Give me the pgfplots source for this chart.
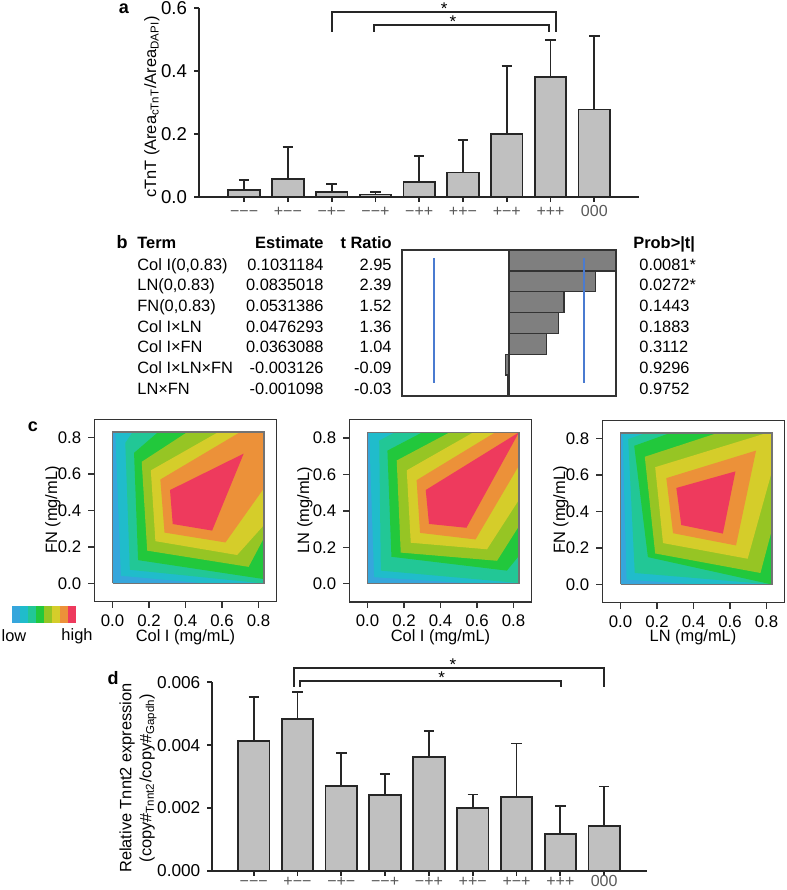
\documentclass[border=0pt]{standalone}
\usepackage{fontspec}
\setmainfont{Liberation Sans}
\usepackage{pgfplots}
\pgfplotsset{compat=1.18}

\definecolor{barfill}{HTML}{C0C0C0}
\definecolor{bardark}{HTML}{7F7F7F}
\definecolor{tline}{HTML}{4A7BD0}
\definecolor{cblue}{HTML}{36A6DC}
\definecolor{ccyan}{HTML}{20BCCB}
\definecolor{cteal}{HTML}{22C796}
\definecolor{cgreen}{HTML}{22C83C}
\definecolor{clime}{HTML}{96C524}
\definecolor{cyellow}{HTML}{D5CD2A}
\definecolor{corange}{HTML}{EC9139}
\definecolor{cred}{HTML}{EE3A5D}

\newcommand\fs{\fontsize{8.2}{10}\selectfont}

\pgfplotsset{
  /pgf/number format/assume math mode=true,
  barax/.style={
    scale only axis, anchor=south west, clip=false,
    axis lines=left, axis line style={-, line width=0.9pt, black!85},
    tick style={line width=0.9pt, black!85}, tick align=outside, major tick length=2.5pt,
    xtick={0,...,8},
    xticklabels={−−−,+−−,−+−,−−+,−++,++−,+−+,+++,000},
    xticklabel style={font=\fontsize{8}{9}\selectfont, text=black!65,
      text height=5.6pt, text depth=0pt, inner sep=1.5pt},
    ymin=0, scaled y ticks=false,
  },
  bars/.style={ybar, bar width=0.72, fill=barfill, draw=black!85, line width=0.9pt,
    error bars/.cd, y dir=plus, y explicit,
    error bar style={line width=0.9pt, black!85},
    error mark options={rotate=90, mark size=2.6pt, line width=0.9pt, black!85}},
  cont/.style={
    scale only axis, anchor=south west, width=91.2pt, height=91.2pt,
    xmin=-0.1, xmax=0.9, ymin=-0.1, ymax=0.9,
    xtick={0,0.2,0.4,0.6,0.8}, ytick={0,0.2,0.4,0.6,0.8},
    xtick pos=left, ytick pos=left, tick align=outside, major tick length=3pt,
    axis line style={line width=0.7pt, black!80},
    tick style={line width=0.7pt, black!80},
    tick label style={font=\fontsize{8.4}{10}\selectfont},
    xticklabel style={/pgf/number format/.cd, fixed, fixed zerofill, precision=1},
    yticklabel style={/pgf/number format/.cd, fixed, fixed zerofill, precision=1},
  },
  band/.style={fill=#1, draw=none, forget plot},
  inner/.style={draw=black!55, line width=0.6pt, forget plot},
}

\begin{document}
\begin{tikzpicture}[x=0.5pt, y=-0.5pt]
\useasboundingbox (0,0) rectangle (787,890);

% ---------------- panel a
\begin{axis}[barax, at={(199*0.5pt,-197*0.5pt)}, width=220pt, height=94.5pt,
  xmin=-1.03, xmax=9.02, ymax=0.6, ytick={0,0.2,0.4,0.6},
  yticklabel style={font=\fontsize{9.3}{10}\selectfont,
    /pgf/number format/.cd, fixed, fixed zerofill, precision=1}]
\addplot[bars] table[x=x, y=y, y error=e] {
x y e
0 0.021 0.033
1 0.058 0.102
2 0.015 0.026
3 0.008 0.007
4 0.048 0.082
5 0.078 0.102
6 0.201 0.216
7 0.380 0.118
8 0.278 0.233
};
\draw[line width=0.9pt, black!85] (axis cs:2.01,0.525) |- (axis cs:7.12,0.588) -- (axis cs:7.12,0.525);
\draw[line width=0.9pt, black!85] (axis cs:2.97,0.525) |- (axis cs:6.96,0.546) -- (axis cs:6.96,0.525);
\node[anchor=north, inner sep=0, font=\fontsize{8.5}{8}\selectfont] at (axis cs:4.57,0.617) {*};
\node[anchor=north, inner sep=0, font=\fontsize{8.5}{8}\selectfont] at (axis cs:4.77,0.575) {*};
\end{axis}
\node[font=\bfseries\fontsize{9}{10}\selectfont] at (124,9) {a};
\node[rotate=90, font=\fs] at (152,107) {cTnT (Area\textsubscript{cTnT}/Area\textsubscript{DAPI})};

% ---------------- panel b
\node[font=\bfseries\fontsize{9}{10}\selectfont] at (122,242) {b};
\begin{scope}[font=\fs, every node/.style={inner sep=0}]
\node[anchor=base west, font=\fs\bfseries] at (137,248) {Term};
\node[anchor=base east, font=\fs\bfseries] at (324,248) {Estimate};
\node[anchor=base east, font=\fs\bfseries] at (392,248) {t Ratio};
\node[anchor=base west, font=\fs\bfseries] at (633,248) {Prob>|t|};
\foreach \yy/\t/\e/\r/\p in {
  270/Col I(0{,}0.83)/0.1031184/2.95/0.0081*,
  290.7/LN(0{,}0.83)/0.0835018/2.39/0.0272*,
  311.4/FN(0{,}0.83)/0.0531386/1.52/0.1443,
  332.1/Col I×LN/0.0476293/1.36/0.1883,
  352.8/Col I×FN/0.0363088/1.04/0.3112,
  373.5/Col I×LN×FN/-0.003126/-0.09/0.9296,
  394.2/LN×FN/-0.001098/-0.03/0.9752}{
  \node[anchor=base west] at (137,\yy) {\t};
  \node[anchor=base east] at (324,\yy) {\e};
  \node[anchor=base east] at (392,\yy) {\r};
  \node[anchor=base west] at (639,\yy) {\p};
}
\end{scope}
\begin{axis}[at={(402*0.5pt,-396*0.5pt)}, anchor=south west, scale only axis, width=107pt, height=73pt,
  xmin=-2.95, xmax=2.95, ymin=-0.5, ymax=6.5, y dir=reverse,
  xtick=\empty, ytick=\empty, axis line style={line width=0.8pt, black!80}]
\addplot[xbar, bar width=1, fill=bardark, draw=black!80, line width=0.7pt] coordinates {
(2.95,0) (2.39,1) (1.52,2) (1.36,3) (1.04,4) (-0.09,5) (-0.03,6)};
\addplot[tline, line width=0.8pt] coordinates {(-2.07,-0.12) (-2.07,5.88)};
\addplot[tline, line width=0.8pt] coordinates {(2.07,-0.12) (2.07,5.88)};
\end{axis}

% ---------------- panel c
\node[font=\bfseries\fontsize{9}{10}\selectfont] at (33,427) {c};

\begin{axis}[cont, at={(94.3*0.5pt,-601.7*0.5pt)}]
\addplot[band=cblue] coordinates {(0,0) (0.83,0) (0.83,0.83) (0,0.83)};
\addplot[band=ccyan] coordinates {(0.015,0.83) (0.046,0.042) (0.51,0) (0.83,0) (0.83,0.83)};
\addplot[band=cteal] coordinates {(0.11,0.83) (0.07,0.77) (0.095,0.075) (0.83,0) (0.83,0.83)};
\addplot[band=cgreen] coordinates {(0.25,0.83) (0.118,0.716) (0.14,0.128) (0.83,0.024) (0.83,0.83)};
\addplot[band=clime] coordinates {(0.41,0.83) (0.16,0.667) (0.19,0.18) (0.746,0.091) (0.83,0.25) (0.83,0.83)};
\addplot[band=cyellow] coordinates {(0.58,0.83) (0.21,0.62) (0.235,0.232) (0.683,0.156) (0.83,0.32) (0.83,0.83)};
\addplot[band=corange] coordinates {(0.70,0.83) (0.262,0.57) (0.285,0.279) (0.619,0.225) (0.83,0.522) (0.83,0.83)};
\addplot[band=cred] coordinates {(0.315,0.512) (0.719,0.712) (0.546,0.29) (0.33,0.326)};
\addplot[inner] coordinates {(0,0) (0.83,0) (0.83,0.83) (0,0.83) (0,0)};
\end{axis}

\begin{axis}[cont, at={(349.3*0.5pt,-602*0.5pt)}]
\addplot[band=cblue] coordinates {(0,0) (0.83,0) (0.83,0.83) (0,0.83)};
\addplot[band=ccyan] coordinates {(0.009,0.83) (0.036,0.036) (0.6,0) (0.83,0) (0.83,0.83)};
\addplot[band=cteal] coordinates {(0.15,0.83) (0.064,0.785) (0.073,0.072) (0.83,0.004) (0.83,0.83)};
\addplot[band=cgreen] coordinates {(0.30,0.83) (0.109,0.73) (0.131,0.148) (0.764,0.072) (0.83,0.153) (0.83,0.83)};
\addplot[band=clime] coordinates {(0.45,0.83) (0.16,0.676) (0.182,0.171) (0.71,0.126) (0.83,0.316) (0.83,0.83)};
\addplot[band=cyellow] coordinates {(0.58,0.83) (0.215,0.622) (0.237,0.225) (0.655,0.189) (0.83,0.46) (0.83,0.83)};
\addplot[band=corange] coordinates {(0.70,0.83) (0.269,0.568) (0.288,0.279) (0.592,0.243) (0.83,0.648) (0.83,0.83)};
\addplot[band=cred] coordinates {(0.319,0.514) (0.83,0.83) (0.542,0.307) (0.337,0.328)};
\addplot[inner] coordinates {(0,0) (0.83,0) (0.83,0.83) (0,0.83) (0,0)};
\end{axis}

\begin{axis}[cont, at={(602.3*0.5pt,-602.7*0.5pt)}]
\addplot[band=cblue] coordinates {(0,0) (0.83,0) (0.83,0.83) (0,0.83)};
\addplot[band=ccyan] coordinates {(0.011,0.83) (0.033,0.027) (0.415,0) (0.83,0) (0.83,0.83)};
\addplot[band=cteal] coordinates {(0.14,0.83) (0.042,0.797) (0.078,0.063) (0.83,0) (0.83,0.83)};
\addplot[band=cgreen] coordinates {(0.27,0.83) (0.075,0.76) (0.15,0.15) (0.83,0) (0.83,0.83)};
\addplot[band=clime] coordinates {(0.53,0.83) (0.133,0.70) (0.19,0.17) (0.767,0.063) (0.83,0.3) (0.83,0.83)};
\addplot[band=cyellow] coordinates {(0.80,0.83) (0.19,0.643) (0.233,0.227) (0.697,0.141) (0.83,0.62) (0.83,0.83)};
\addplot[band=corange] coordinates {(0.251,0.583) (0.288,0.281) (0.633,0.214) (0.743,0.734)};
\addplot[band=cred] coordinates {(0.306,0.529) (0.63,0.62) (0.561,0.279) (0.333,0.326)};
\addplot[inner] coordinates {(0,0) (0.83,0) (0.83,0.83) (0,0.83) (0,0)};
\end{axis}

\node[rotate=90, font=\fs] at (53,510) {FN (mg/mL)};
\node[rotate=90, font=\fs] at (305,510) {LN (mg/mL)};
\node[rotate=90, font=\fs] at (561,510) {FN (mg/mL)};
\node[font=\fs] at (185.5,637) {Col I (mg/mL)};
\node[font=\fs] at (440.5,637) {Col I (mg/mL)};
\node[font=\fs] at (693,637) {LN (mg/mL)};

% colour key
\begin{axis}[at={(12*0.5pt,-623*0.5pt)}, anchor=south west, scale only axis, width=32pt, height=8.5pt,
  xmin=0, xmax=8, ymin=0, ymax=1, hide axis]
\addplot[band=cblue] coordinates {(0,0) (1,0) (1,1) (0,1)};
\addplot[band=ccyan] coordinates {(1,0) (2,0) (2,1) (1,1)};
\addplot[band=cteal] coordinates {(2,0) (3,0) (3,1) (2,1)};
\addplot[band=cgreen] coordinates {(3,0) (4,0) (4,1) (3,1)};
\addplot[band=clime] coordinates {(4,0) (5,0) (5,1) (4,1)};
\addplot[band=cyellow] coordinates {(5,0) (6,0) (6,1) (5,1)};
\addplot[band=corange] coordinates {(6,0) (7,0) (7,1) (6,1)};
\addplot[band=cred] coordinates {(7,0) (8,0) (8,1) (7,1)};
\end{axis}
\node[font=\fs] at (14,636) {low};
\node[font=\fs] at (77,636) {high};

% ---------------- panel d
\begin{axis}[barax, at={(212.3*0.5pt,-870.7*0.5pt)}, width=217.2pt, height=94.2pt,
  xmin=-0.945, xmax=8.97, ymax=0.006, ytick={0,0.002,0.004,0.006},
  xticklabel style={inner sep=0.4pt, yshift=0.6pt},
  yticklabel style={font=\fontsize{8.6}{10}\selectfont,
    /pgf/number format/.cd, fixed, fixed zerofill, precision=3}]
\addplot[bars] table[x=x, y=y, y error=e] {
x y e
0 0.00414 0.00140
1 0.00482 0.00087
2 0.00269 0.00105
3 0.00242 0.00066
4 0.00361 0.00085
5 0.00199 0.00044
6 0.00234 0.00171
7 0.00116 0.00090
8 0.00142 0.00126
};
\draw[line width=0.9pt, black!85] (axis cs:0.92,0.00586) |- (axis cs:7.99,0.006455) -- (axis cs:7.99,0.00586);
\draw[line width=0.9pt, black!85] (axis cs:1.06,0.00586) |- (axis cs:7.02,0.006032) -- (axis cs:7.02,0.00586);
\node[anchor=north, inner sep=0, font=\fontsize{8.5}{8}\selectfont] at (axis cs:4.55,0.006764) {*};
\node[anchor=north, inner sep=0, font=\fontsize{8.5}{8}\selectfont] at (axis cs:4.29,0.006338) {*};
\end{axis}
\node[font=\bfseries\fontsize{9}{10}\selectfont] at (113,678) {d};
\node[rotate=90, font=\fs, align=center] at (138,778) {Relative Tnnt2 expression\\(copy\#\textsubscript{Tnnt2}/copy\#\textsubscript{Gapdh})};

\end{tikzpicture}
\end{document}
